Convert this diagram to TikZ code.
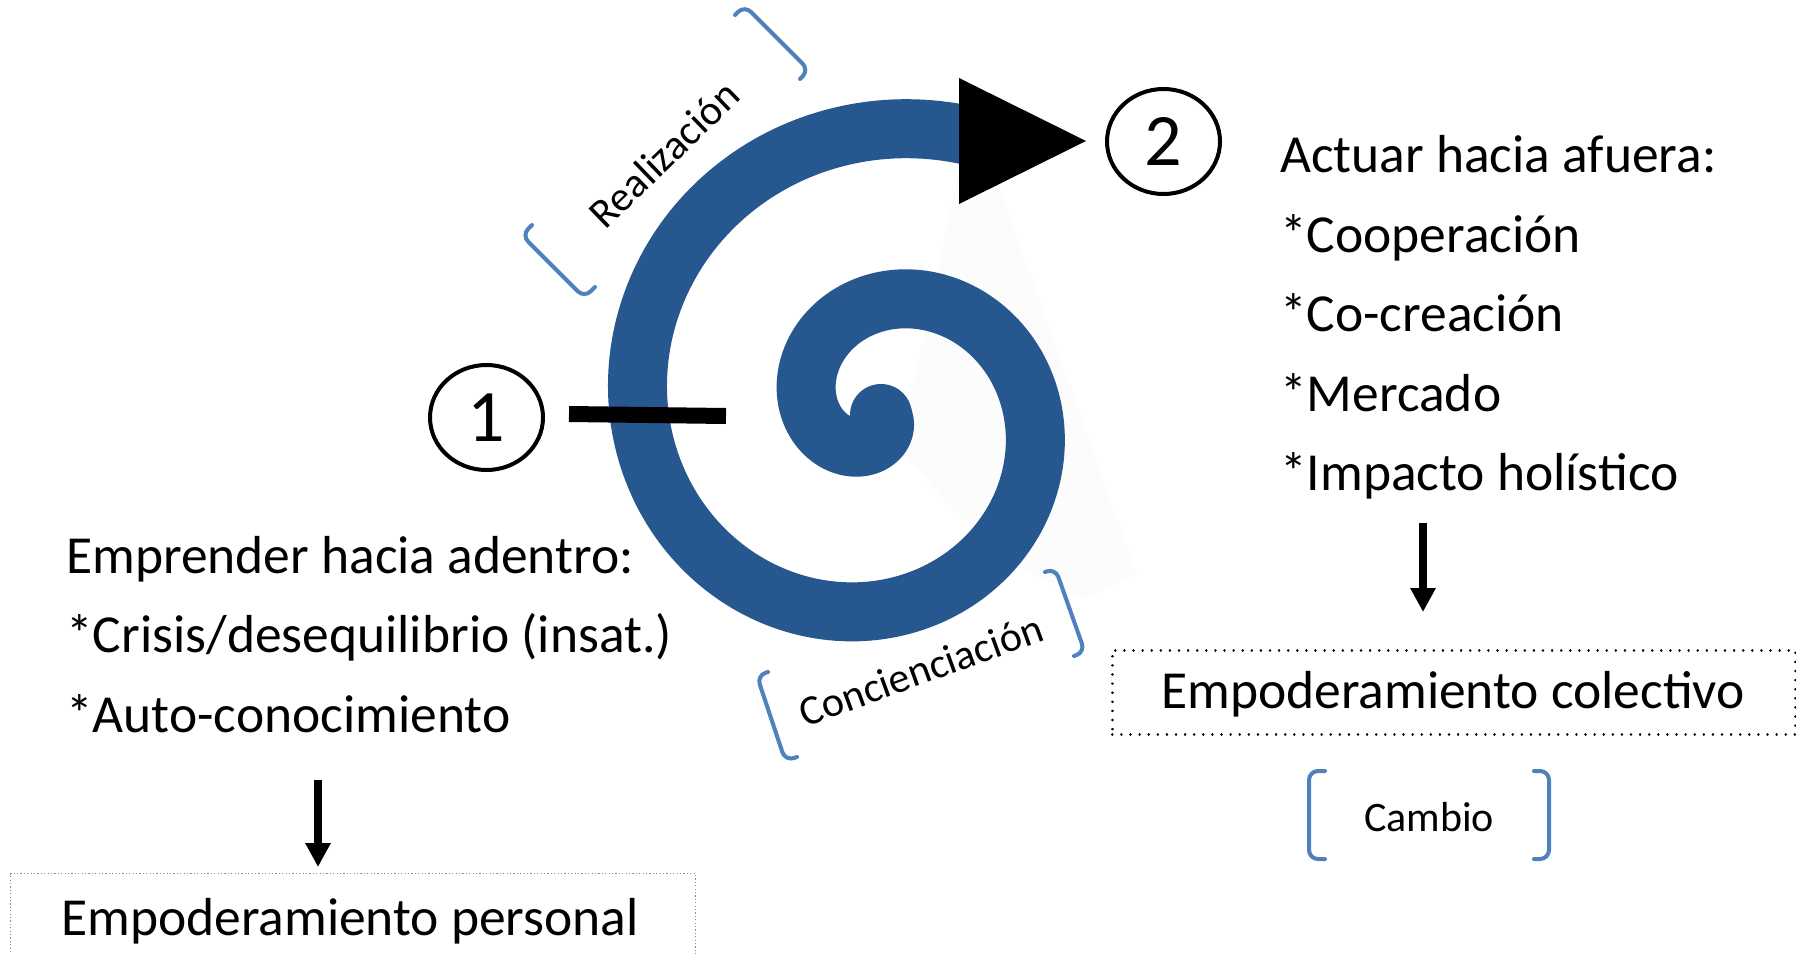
\documentclass[tikz,border=0pt]{standalone}
\usepackage{fontspec}
\setmainfont{Carlito}
\usetikzlibrary{arrows.meta,shapes.geometric}
\definecolor{spiralblue}{RGB}{39,87,143}
\definecolor{brk}{RGB}{79,129,189}
\definecolor{shadowc}{RGB}{252,252,252}
\begin{document}
\begin{tikzpicture}[x=1pt,y=-1pt,
  bracket/.style={draw=brk, line width=4pt, rounded corners=9pt, line cap=round},
  maintext/.style={font=\fontsize{53.5}{64}\selectfont, inner sep=0pt, anchor=base west},
  lbl/.style={font=\fontsize{42}{50}\selectfont, inner sep=0pt},
  num/.style={draw, ellipse, line width=4pt, minimum width=113pt, minimum height=105pt, inner sep=0pt, font=\fontsize{74}{80}\selectfont},
  arr/.style={line width=8pt, -{Triangle[length=24pt, width=24pt]}},
  dotbox/.style={draw, line width=2.5pt, dash pattern=on 0.1pt off 9pt, line cap=round, inner sep=0pt, anchor=north west},
  finebox/.style={draw=black!45, line width=1.2pt, dash pattern=on 1.2pt off 2.2pt, inner sep=0pt, anchor=north west}
]
\useasboundingbox (0,0) rectangle (1796,953);
\fill[white] (0,0) rectangle (1796,953);

% faint shadow behind the spiral
\fill[shadowc] (959,170) -- (995,175) -- (1136,573) -- (1085,598) -- (1000,560) -- (900,450) -- cycle;

% spiral
\draw[spiralblue, line width=59pt] plot[domain=-315:288, samples=400, variable=\t]
  ({879+(154+0.4778*\t)*cos(\t)}, {413+(154+0.4778*\t)*sin(\t)});
\fill[spiralblue] (881,415) circle (31pt);

% arrow head at spiral end
\fill[black] (959,78) -- (1086,141) -- (959,204) -- cycle;

% numbered circles
\node[num] (c1) at (486.5,417.5) {1};
\node[num] (c2) at (1163.5,141.5) {2};

% bar from circle 1 into the spiral
\coordinate (b1) at (569,414);
\coordinate (b2) at (726,416);
\draw[line width=16pt] (b1) -- (b2);

% brackets
\draw[bracket] (532,225) -- (521.75,235.25) -- (584.25,297.75) -- (595,287);
\draw[bracket] (735,15) -- (744.5,5.5) -- (809,70) -- (800,79);
\draw[bracket] (768,672) -- (756.9,675.7) -- (785.3,760.9) -- (797,757);
\draw[bracket] (1045,572) -- (1055.3,568.4) -- (1084.9,652.1) -- (1074,656);
\draw[bracket] (1325,771) -- (1309,771) -- (1309,859) -- (1325,859);
\draw[bracket] (1534,771) -- (1549,771) -- (1549,859) -- (1534,859);

% bracket labels
\node[lbl, rotate=44] (lR) at (664,154) {Realización};
\node[lbl, rotate=20] (lC) at (921,670) {Concienciación};
\node[lbl] (lCa) at (1429,817) {Cambio};

% left text
\node[maintext] (l1) at (66,573) {Emprender hacia adentro:};
\node[maintext] (l2) at (66,652) {*Crisis/desequilibrio (insat.)};
\node[maintext] (l3) at (66,732) {*Auto-conocimiento};

% right text
\node[maintext] (r1) at (1280,172) {Actuar hacia afuera:};
\node[maintext] (r2) at (1280,252) {*Cooperación};
\node[maintext] (r3) at (1280,331) {*Co-creación};
\node[maintext] (r4) at (1280,411) {*Mercado};
\node[maintext] (r5) at (1280,490) {*Impacto holístico};

% boxes
\node[finebox, minimum width=685pt, minimum height=120pt] (boxP) at (10,873) {};
\node[maintext, anchor=base] (tP) at (350,935) {Empoderamiento personal};
\node[dotbox, minimum width=683pt, minimum height=84pt] (boxC) at (1111,649) {};
\node[maintext, anchor=base] (tC) at (1453,708) {Empoderamiento colectivo};

% arrows to boxes
\coordinate (aP) at (318,780);
\draw[arr, shorten >=6pt] (aP) -- (aP |- boxP.north);
\coordinate (aC) at (1423,523);
\draw[arr, shorten >=37pt] (aC) -- (aC |- boxC.north);
\end{tikzpicture}
\end{document}
